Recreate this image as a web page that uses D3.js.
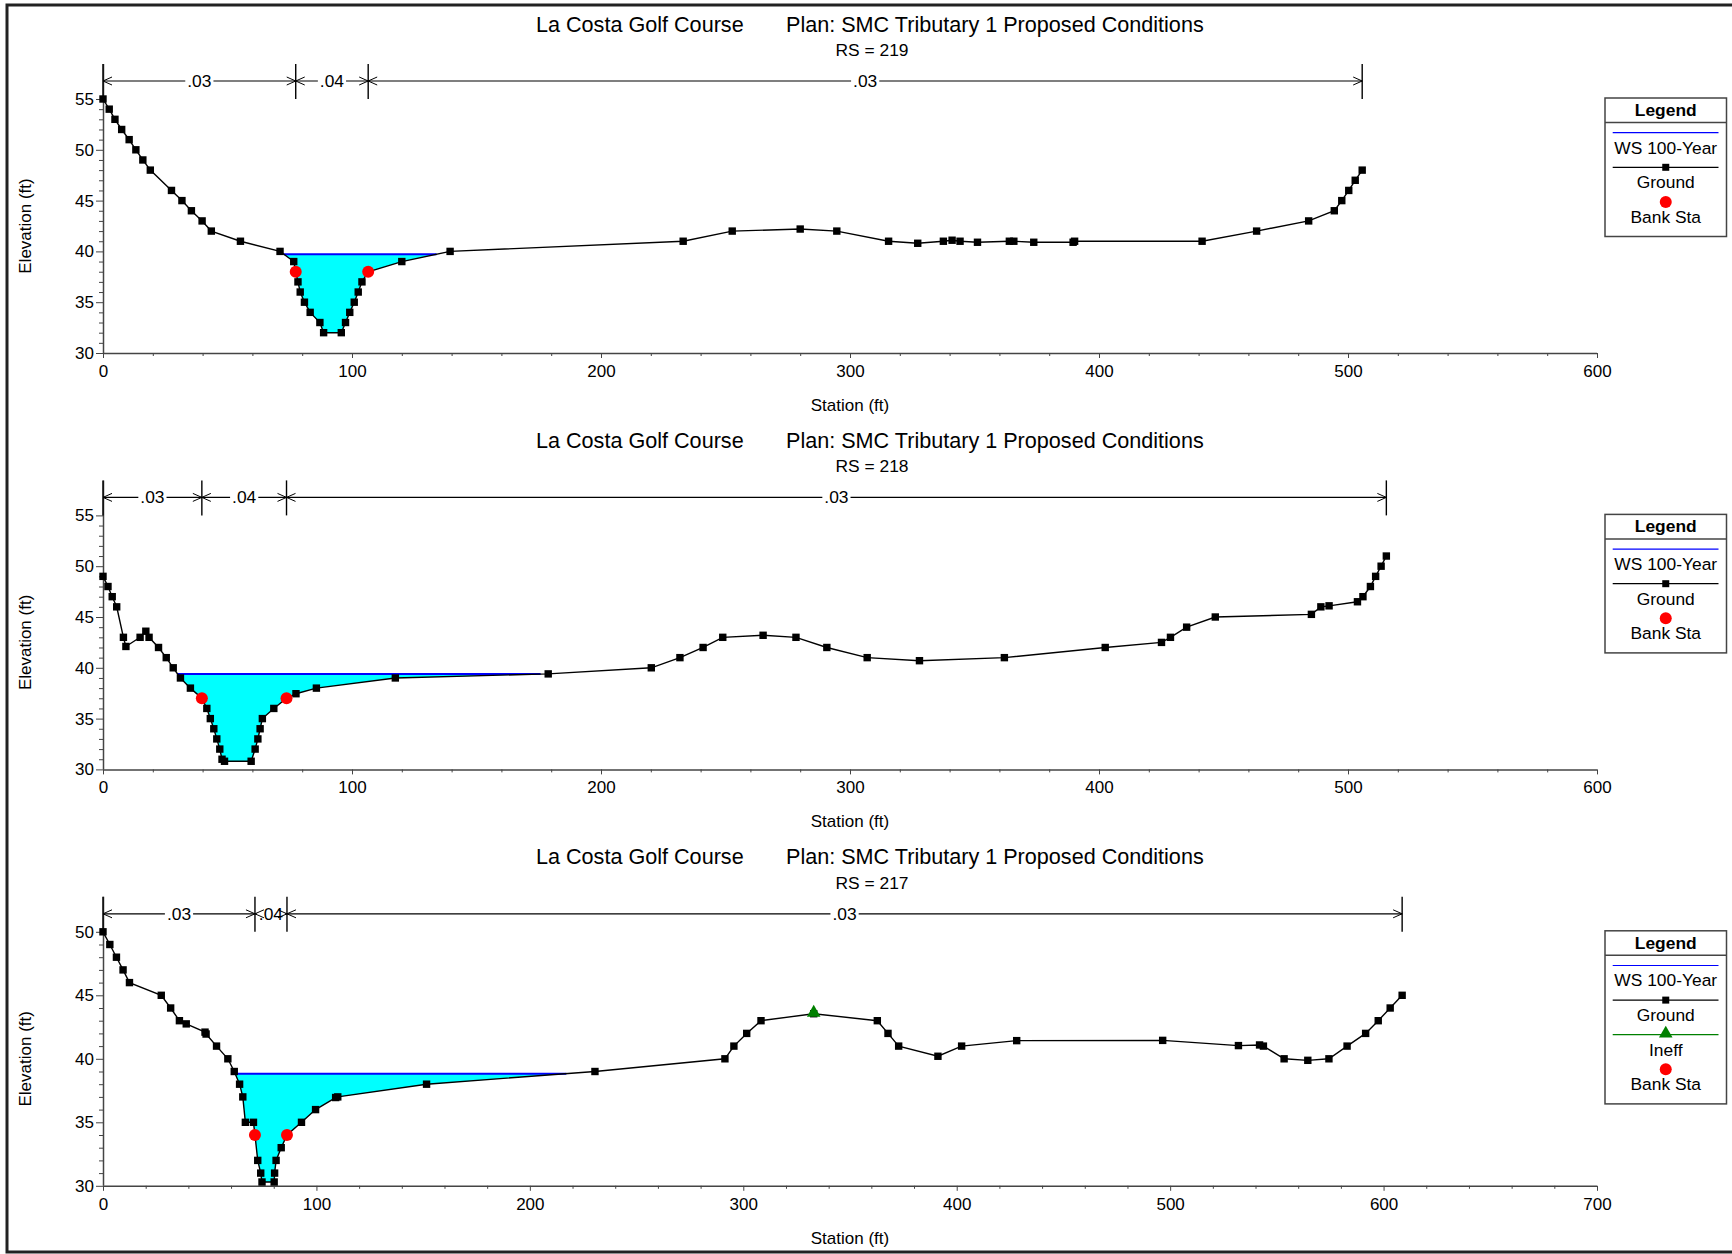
<!DOCTYPE html>
<html>
<head>
<meta charset="utf-8">
<script src="https://cdn.jsdelivr.net/npm/d3@7"></script>
<style>
  body { margin: 0; background: #fff; }
  svg text { font-family: "Liberation Sans", Arial, sans-serif; fill: #000; }
  .tick text { font-size: 17px; }
</style>
</head>
<body>
<div id="chart"></div>
<script>
// Titles
const projectTitle = "La Costa Golf Course";
const planTitle = "Plan: SMC Tributary 1 Proposed Conditions";

// RS = 219
const sta219 = [0, 2.5, 4.8, 7.5, 10.5, 13.2, 16, 19, 27.5, 31.7,
  35.5, 39.8, 43.5, 55.2, 71.1, 76.6, 77.4, 78.3, 79.2, 80.9,
  83.2, 87.1, 88.6, 95.7, 97.4, 99.1, 100.9, 102.5, 104, 106.5,
  120, 139.4, 233, 252.7, 280, 294.7, 315.5, 327.2, 337.5, 341,
  344.2, 351.2, 364, 365.8, 373.8, 389.6, 390.2, 441.4, 463.3, 484.2,
  494.5, 497.5, 500.3, 502.9, 505.7];
const elev219 = [55, 54, 53, 52, 51, 50, 49, 48, 46, 45,
  44, 43, 42, 41, 40, 39, 38, 37, 36, 35,
  34, 33, 32, 32, 33, 34, 35, 36, 37, 38,
  39, 40, 41, 42, 42.2, 42, 41, 40.8, 41, 41.1,
  41, 40.9, 41, 41, 40.9, 40.9, 41, 41, 42, 43,
  44, 45, 46, 47, 48];
const ws219 = 39.72;
const banks219 = [77.4, 106.5];
const nValues219 = [".03", ".04", ".03"];

// RS = 218
const sta218 = [0, 2, 3.7, 5.5, 8.2, 9.2, 14.9, 17.2, 18.5, 22.3,
  25.4, 28.2, 31.1, 35.1, 39.7, 41.7, 43.1, 44.5, 45.7, 46.9,
  47.8, 48.8, 59.5, 61.1, 62.2, 63.1, 64, 68.6, 73.7, 77.5,
  85.7, 117.4, 178.8, 220.2, 231.7, 241, 248.9, 265.1, 278.3, 290.7,
  306.9, 327.9, 362, 402.5, 425.1, 428.7, 435.2, 446.7, 485.3, 489.1,
  492.4, 503.8, 506, 509, 511.1, 513.3, 515.4];
const elev218 = [49, 48, 47, 46, 43, 42.1, 43, 43.6, 43, 42,
  41, 40, 39, 38, 37, 36, 35, 34, 33, 32,
  31, 30.8, 30.8, 32, 33, 34, 35, 36, 37, 37.45,
  38, 39, 39.4, 40, 41, 42, 43, 43.2, 43, 42,
  41, 40.7, 41, 42, 42.5, 43, 44, 45, 45.26, 46,
  46.1, 46.5, 47, 48, 49, 50, 51];
const ws218 = 39.38;
const banks218 = [39.7, 73.7];
const nValues218 = [".03", ".04", ".03"];

// RS = 217
const sta217 = [0, 3.2, 6.3, 9.4, 12.4, 27.3, 31.7, 35.8, 39, 47.8,
  48.3, 53.2, 58.5, 61.5, 64, 65.5, 66.7, 70.5, 71.2, 72.5,
  73.9, 74.5, 80.2, 80.4, 81.1, 83.5, 86.2, 93, 99.6, 109,
  110, 151.6, 230.5, 291.4, 295.6, 301.6, 308.3, 333, 362.8, 367.8,
  372.8, 391.2, 402.3, 428.1, 496.5, 532, 541.9, 543.7, 553.4, 564.5,
  574.4, 582.9, 591.6, 597.5, 603.1, 608.7];
const elev217 = [50, 49, 48, 47, 46, 45, 44, 43, 42.75, 42.1,
  41.95, 41, 40, 39, 38, 37, 35, 35, 34, 32,
  31, 30.3, 30.3, 31, 32, 33, 34, 35, 36, 36.95,
  37, 38, 39, 40, 41, 42, 43, 43.55, 43, 42,
  41, 40.2, 41, 41.43, 41.45, 41.04, 41.09, 41, 40, 39.88,
  40, 41, 42, 43, 44, 45];
const ws217 = 38.83;
const banks217 = [71.2, 86.2];
const nValues217 = [".03", ".04", ".03"];
const ineffSta217 = [333];
const ineffElev217 = [43.55];

// Axis extents and legend entries
const xMaxTicks = [600, 600, 700];
const yMaxTicks = [55, 55, 50];
const legendBasic = ["WS 100-Year", "Ground", "Bank Sta"];
const legendIneff = ["WS 100-Year", "Ground", "Ineff", "Bank Sta"];

const sections = [
  { rs: "219", sta: sta219, elev: elev219, ws: ws219, banks: banks219, n: nValues219, ineffSta: [], ineffElev: [], legend: legendBasic },
  { rs: "218", sta: sta218, elev: elev218, ws: ws218, banks: banks218, n: nValues218, ineffSta: [], ineffElev: [], legend: legendBasic },
  { rs: "217", sta: sta217, elev: elev217, ws: ws217, banks: banks217, n: nValues217, ineffSta: ineffSta217, ineffElev: ineffElev217, legend: legendIneff }
];

// Layout
const width = 1732, height = 1254;
const panelStep = 416.4;
const plot = { left: 103, right: 1597, top: 64, tickTop: 99, bottom: 353 };
const axisColor = "#444";
const markerSize = 7.4;
const bankRadius = 6;

const svg = d3.select("#chart").append("svg")
  .attr("width", width)
  .attr("height", height);

svg.append("rect").attr("width", width).attr("height", height).attr("fill", "#fff");

// Outer frame
svg.append("path")
  .attr("d", `M${width},5 H7 V1252 H${width}`)
  .attr("fill", "none")
  .attr("stroke", "#222")
  .attr("stroke-width", 3);

// Ground elevation at a station (linear between points)
function groundAt(sta, elev, s) {
  const i = Math.max(1, Math.min(sta.length - 1, d3.bisectLeft(sta, s)));
  const t = (s - sta[i - 1]) / (sta[i] - sta[i - 1]);
  return elev[i - 1] + t * (elev[i] - elev[i - 1]);
}

// Wetted region below the water surface around the thalweg
function waterPolygon(sta, elev, ws) {
  const iMin = d3.minIndex(elev);
  let l = iMin, r = iMin;
  while (l > 0 && elev[l - 1] < ws) l--;
  while (r < elev.length - 1 && elev[r + 1] < ws) r++;
  const xl = sta[l - 1] + (ws - elev[l - 1]) * (sta[l] - sta[l - 1]) / (elev[l] - elev[l - 1]);
  const xr = sta[r] + (ws - elev[r]) * (sta[r + 1] - sta[r]) / (elev[r + 1] - elev[r]);
  const pts = [[xl, ws]];
  for (let k = l; k <= r; k++) pts.push([sta[k], elev[k]]);
  pts.push([xr, ws]);
  return pts;
}

function drawSection(s, i) {
  const g = svg.append("g").attr("transform", `translate(0,${i * panelStep})`);
  const xMax = xMaxTicks[i], yMax = yMaxTicks[i];

  const x = d3.scaleLinear().domain([0, xMax]).range([plot.left, plot.right]);
  const y = d3.scaleLinear().domain([30, yMax]).range([plot.bottom, plot.tickTop]);

  // Titles
  g.append("text").attr("x", 536).attr("y", 31.5).style("font-size", "21.6px").text(projectTitle);
  g.append("text").attr("x", 786).attr("y", 31.5).style("font-size", "21.6px").text(planTitle);
  g.append("text")
    .attr("x", 872).attr("y", 56)
    .attr("text-anchor", "middle")
    .style("font-size", "17.4px")
    .text(`RS = ${s.rs}`);

  // Axes
  const xMajor = d3.range(0, xMax + 1, 100);
  const xMinor = d3.range(0, xMax + 1, 20).filter(v => v % 100 !== 0);
  const yMajor = d3.range(30, yMax + 1, 5);
  const yMinor = d3.range(30, yMax + 1, 1).filter(v => v % 5 !== 0);

  const xAxis = g.append("g").attr("transform", `translate(0,${plot.bottom})`).attr("color", axisColor);
  xAxis.append("g").call(d3.axisBottom(x).tickValues(xMinor).tickSize(3).tickFormat(""));
  xAxis.append("g").call(d3.axisBottom(x).tickValues(xMajor).tickSize(5).tickPadding(7).tickFormat(d3.format("d")));
  xAxis.selectAll(".domain").remove();

  const yAxis = g.append("g").attr("transform", `translate(${plot.left},0)`).attr("color", axisColor);
  yAxis.append("g").call(d3.axisLeft(y).tickValues(yMinor).tickSize(4).tickFormat(""));
  yAxis.append("g").call(d3.axisLeft(y).tickValues(yMajor).tickSize(7).tickPadding(2).tickFormat(d3.format("d")));
  yAxis.selectAll(".domain").remove();

  g.append("line")
    .attr("x1", plot.left).attr("x2", plot.right)
    .attr("y1", plot.bottom + 0.5).attr("y2", plot.bottom + 0.5)
    .attr("stroke", axisColor).attr("stroke-width", 1.5);
  g.append("line")
    .attr("x1", plot.left + 0.5).attr("x2", plot.left + 0.5)
    .attr("y1", plot.top).attr("y2", plot.bottom)
    .attr("stroke", axisColor).attr("stroke-width", 1.5);

  // Axis titles
  g.append("text")
    .attr("x", (plot.left + plot.right) / 2)
    .attr("y", 411)
    .attr("text-anchor", "middle")
    .style("font-size", "17px")
    .text("Station (ft)");

  g.append("text")
    .attr("transform", `translate(31,${(y(30) + y(yMax)) / 2}) rotate(-90)`)
    .attr("text-anchor", "middle")
    .style("font-size", "17px")
    .text("Elevation (ft)");

  // Water surface
  const water = waterPolygon(s.sta, s.elev, s.ws);
  g.append("path")
    .datum(water)
    .attr("d", d3.line().x(d => x(d[0])).y(d => y(d[1])))
    .attr("fill", "#00ffff")
    .attr("stroke", "none");
  g.append("line")
    .attr("x1", x(water[0][0])).attr("x2", x(water[water.length - 1][0]))
    .attr("y1", y(s.ws)).attr("y2", y(s.ws))
    .attr("stroke", "#0000ff").attr("stroke-width", 2);

  // Ground line and points
  const ground = s.sta.map((v, k) => [v, s.elev[k]]);
  g.append("path")
    .datum(ground)
    .attr("d", d3.line().x(d => x(d[0])).y(d => y(d[1])))
    .attr("fill", "none")
    .attr("stroke", "#000")
    .attr("stroke-width", 1.4);
  g.selectAll("rect.pt")
    .data(ground)
    .enter()
    .append("rect")
    .attr("class", "pt")
    .attr("x", d => x(d[0]) - markerSize / 2)
    .attr("y", d => y(d[1]) - markerSize / 2)
    .attr("width", markerSize)
    .attr("height", markerSize)
    .attr("fill", "#000");

  // Ineffective flow marker
  g.selectAll("path.ineff")
    .data(s.ineffSta.map((v, k) => [v, s.ineffElev[k]]))
    .enter()
    .append("path")
    .attr("class", "ineff")
    .attr("transform", d => `translate(${x(d[0])},${y(d[1]) - 1})`)
    .attr("d", d3.symbol(d3.symbolTriangle).size(80))
    .attr("fill", "#008000");

  // Bank stations
  g.selectAll("circle.bank")
    .data(s.banks)
    .enter()
    .append("circle")
    .attr("class", "bank")
    .attr("cx", d => x(d))
    .attr("cy", d => y(groundAt(s.sta, s.elev, d)))
    .attr("r", bankRadius)
    .attr("fill", "#ff0000");

  // Manning's n brackets
  const yN = plot.top + 17;
  const breaks = [s.sta[0], ...s.banks, s.sta[s.sta.length - 1]];
  g.append("line")
    .attr("x1", x(breaks[0])).attr("x2", x(breaks[breaks.length - 1]))
    .attr("y1", yN).attr("y2", yN)
    .attr("stroke", "#000").attr("stroke-width", 1.2);

  s.n.forEach((label, k) => {
    const x0 = x(breaks[k]), x1 = x(breaks[k + 1]);
    const lg = g.append("g");
    const t = lg.append("text")
      .attr("x", (x0 + x1) / 2)
      .attr("y", yN + 6)
      .attr("text-anchor", "middle")
      .style("font-size", "17.4px")
      .text(label);
    const w = t.node().getComputedTextLength();
    lg.insert("rect", "text")
      .attr("x", (x0 + x1) / 2 - w / 2 - 2)
      .attr("y", yN - 3)
      .attr("width", w + 4)
      .attr("height", 6)
      .attr("fill", "#fff");
    // Open arrow heads at both ends of the reach
    g.append("path")
      .attr("d", `M${x0 + 9},${yN - 4} L${x0},${yN} L${x0 + 9},${yN + 4} M${x1 - 9},${yN - 4} L${x1},${yN} L${x1 - 9},${yN + 4}`)
      .attr("fill", "none")
      .attr("stroke", "#000")
      .attr("stroke-width", 1);
  });

  breaks.forEach(b => {
    g.append("line")
      .attr("x1", x(b)).attr("x2", x(b))
      .attr("y1", plot.top).attr("y2", plot.tickTop)
      .attr("stroke", "#000").attr("stroke-width", 1.4);
  });

  drawLegend(g, s.legend);
}

function drawLegend(g, items) {
  const lx = 1605, lw = 121.5, top = 98;
  const cx = lx + lw / 2;
  const boxH = 34.7 + 34.6 * items.length;
  const lg = g.append("g");

  lg.append("rect")
    .attr("x", lx).attr("y", top)
    .attr("width", lw).attr("height", boxH)
    .attr("fill", "#fff")
    .attr("stroke", "#444").attr("stroke-width", 1.5);
  lg.append("line")
    .attr("x1", lx).attr("x2", lx + lw)
    .attr("y1", top + 24.5).attr("y2", top + 24.5)
    .attr("stroke", "#444").attr("stroke-width", 1.5);
  lg.append("text")
    .attr("x", cx).attr("y", top + 18)
    .attr("text-anchor", "middle")
    .style("font-size", "17.4px")
    .style("font-weight", "bold")
    .text("Legend");

  items.forEach((name, k) => {
    const sy = top + 34.7 + 34.6 * k;
    if (name === "WS 100-Year" || name === "Ground" || name === "Ineff") {
      const color = name === "WS 100-Year" ? "#0000ff" : name === "Ground" ? "#000" : "#008000";
      lg.append("line")
        .attr("x1", lx + 7.7).attr("x2", lx + lw - 8)
        .attr("y1", sy).attr("y2", sy)
        .attr("stroke", color).attr("stroke-width", name === "Ground" ? 1.3 : 1.2);
    }
    if (name === "Ground") {
      lg.append("rect")
        .attr("x", cx - 3.5).attr("y", sy - 3.5)
        .attr("width", 7).attr("height", 7)
        .attr("fill", "#000");
    } else if (name === "Ineff") {
      lg.append("path")
        .attr("transform", `translate(${cx},${sy - 1})`)
        .attr("d", d3.symbol(d3.symbolTriangle).size(80))
        .attr("fill", "#008000");
    } else if (name === "Bank Sta") {
      lg.append("circle")
        .attr("cx", cx).attr("cy", sy)
        .attr("r", bankRadius)
        .attr("fill", "#ff0000");
    }
    lg.append("text")
      .attr("x", cx).attr("y", sy + 21)
      .attr("text-anchor", "middle")
      .style("font-size", "17.4px")
      .text(name);
  });
}

sections.forEach(drawSection);
</script>
</body>
</html>
